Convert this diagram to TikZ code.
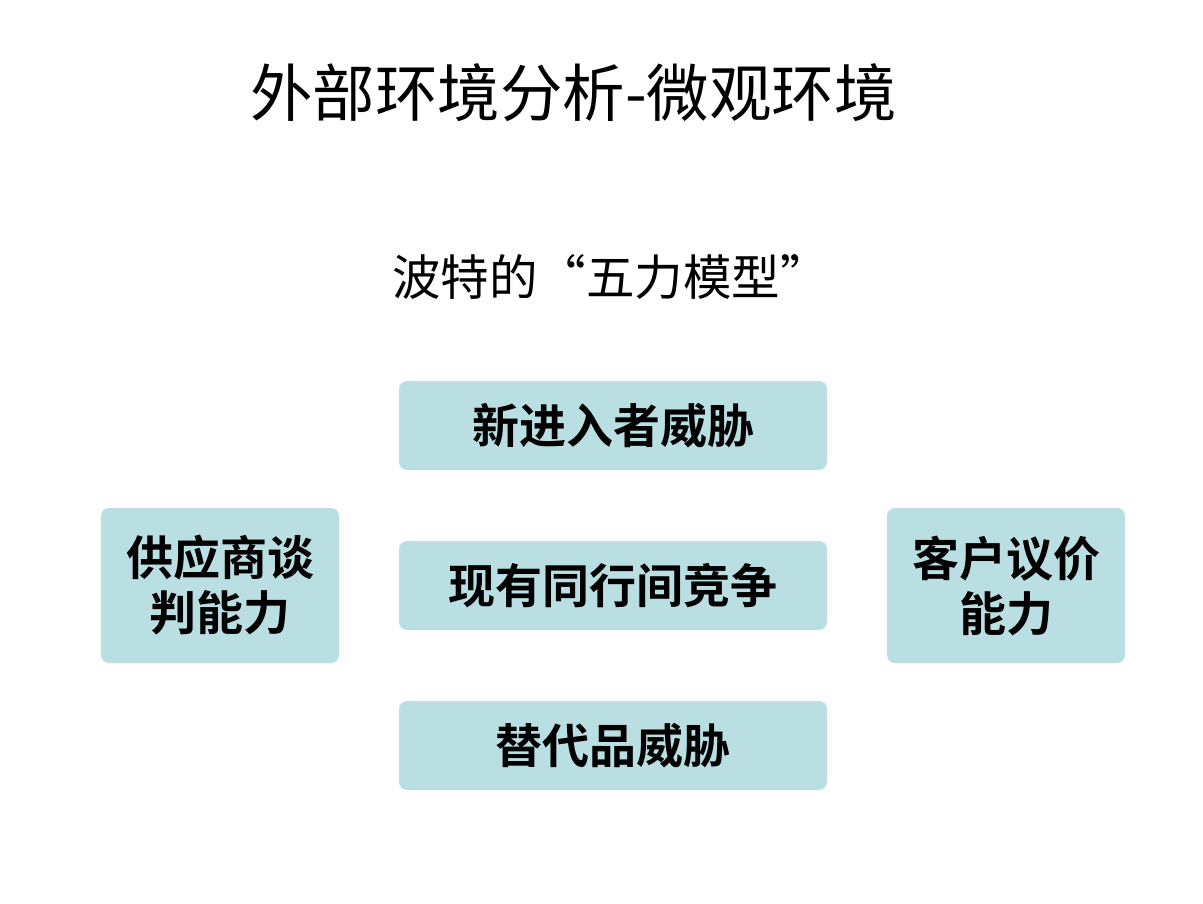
\documentclass[tikz,border=0pt]{standalone}
\usepackage{fontspec}
\newfontfamily\cjk{Noto Sans CJK SC}
\newfontfamily\cjkb{Noto Sans CJK SC Bold}
\definecolor{boxfill}{RGB}{186,223,227}
\begin{document}
\begin{tikzpicture}[x=1pt,y=-1pt,
  card/.style={fill=boxfill,draw=none,rounded corners=8pt,inner sep=0pt,align=center,
    font=\cjkb\fontsize{47}{55}\selectfont}]
\useasboundingbox (0,0) rectangle (1203,904);
\fill[white] (0,0) rectangle (1203,904);
\node[font=\cjk\fontsize{62.5}{64}\selectfont] (title) at (573.5,93) {外部环境分析-微观环境};
\node[font=\cjk\fontsize{48.5}{50}\selectfont] (sub) at (610.5,277) {波特的“五力模型”};
\node[card,minimum width=428pt,minimum height=89pt] (new) at (613,425.5) {新进入者威胁};
\node[card,minimum width=428pt,minimum height=89pt] (rival) at (613,585.5) {现有同行间竞争};
\node[card,minimum width=428pt,minimum height=89pt] (sub2) at (613,745.5) {替代品威胁};
\node[card,minimum width=238pt,minimum height=155pt] (supp) at (220,585.5) {供应商谈\\判能力};
\node[card,minimum width=238pt,minimum height=155pt] (cust) at (1006,585.5) {客户议价\\能力};
\end{tikzpicture}
\end{document}
